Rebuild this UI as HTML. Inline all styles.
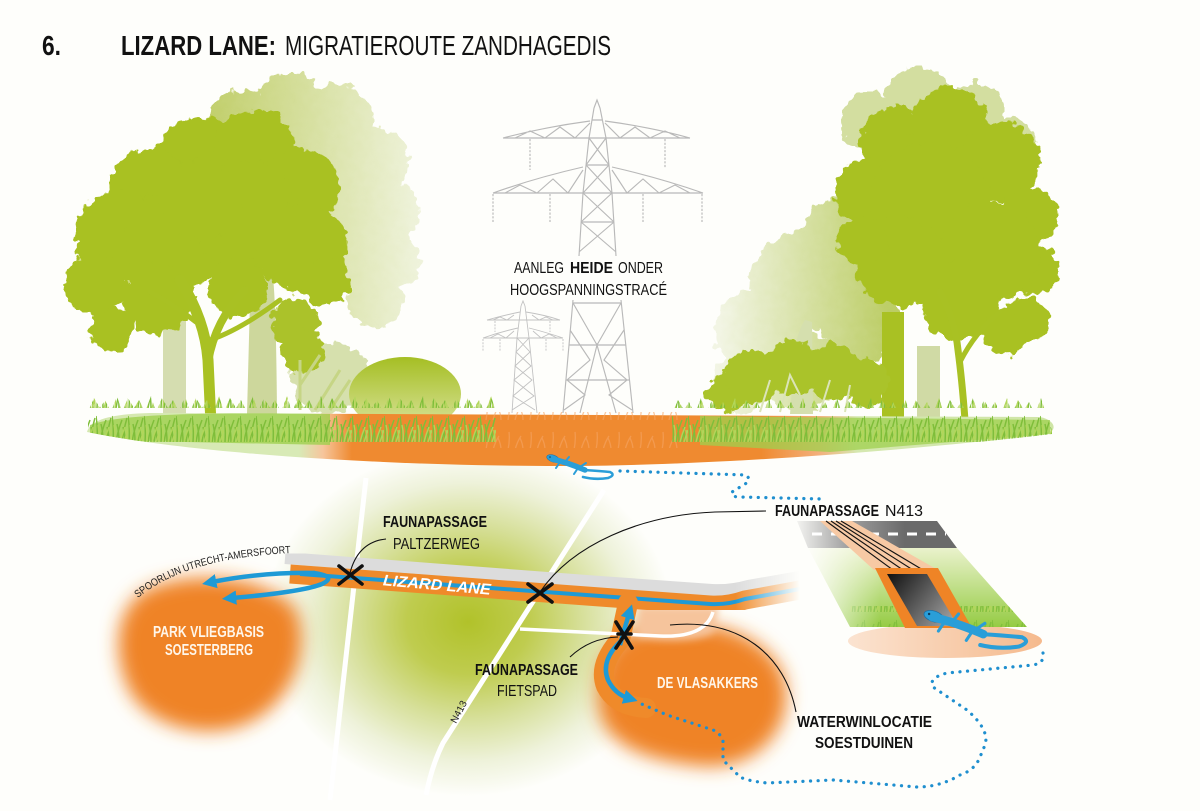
<!DOCTYPE html>
<html><head><meta charset="utf-8"><style>
html,body{margin:0;padding:0;background:#fefefb;}
svg{display:block;}
text{font-family:"Liberation Sans",sans-serif;}
</style></head><body>
<svg width="1200" height="811" viewBox="0 0 1200 811" xmlns="http://www.w3.org/2000/svg">
<defs>
<filter id="leafy" x="-15%" y="-15%" width="130%" height="130%">
<feTurbulence type="fractalNoise" baseFrequency="0.11" numOctaves="2" seed="7" result="n"/>
<feDisplacementMap in="SourceGraphic" in2="n" scale="14" xChannelSelector="R" yChannelSelector="G"/>
</filter>
<filter id="soft" x="-40%" y="-40%" width="180%" height="180%"><feGaussianBlur stdDeviation="9"/></filter>
<filter id="soft4" x="-40%" y="-40%" width="180%" height="180%"><feGaussianBlur stdDeviation="4"/></filter>
<radialGradient id="gmap" gradientUnits="userSpaceOnUse" cx="468" cy="622" r="205" gradientTransform="matrix(1 0 0 0.85 0 93.3)">
<stop offset="0" stop-color="#b1c22a"/><stop offset="0.3" stop-color="#bfcc4f"/><stop offset="0.55" stop-color="#d6df98"/><stop offset="0.8" stop-color="#eef2da"/><stop offset="1" stop-color="#fefefb"/>
</radialGradient>
<linearGradient id="fadeL" gradientUnits="userSpaceOnUse" x1="200" y1="0" x2="420" y2="0"><stop offset="0" stop-color="#bfcd66"/><stop offset="1" stop-color="#eff3dc"/></linearGradient>
<linearGradient id="fadeR" gradientUnits="userSpaceOnUse" x1="720" y1="0" x2="890" y2="0"><stop offset="0" stop-color="#f2f5e4"/><stop offset="1" stop-color="#bccd66"/></linearGradient>
<linearGradient id="bushL" gradientUnits="userSpaceOnUse" x1="0" y1="358" x2="0" y2="420"><stop offset="0" stop-color="#a6bf25"/><stop offset="1" stop-color="#d2de8c"/></linearGradient>
<linearGradient id="groundH" gradientUnits="userSpaceOnUse" x1="87" y1="0" x2="1050" y2="0">
<stop offset="0" stop-color="#d5e8b0"/><stop offset="0.22" stop-color="#d8eab6"/><stop offset="0.245" stop-color="#f6c59c"/><stop offset="0.275" stop-color="#ef8a30"/><stop offset="0.70" stop-color="#ef8a30"/><stop offset="0.76" stop-color="#f3b07c"/><stop offset="0.80" stop-color="#d5e8b0"/><stop offset="1" stop-color="#cfe5a6"/>
</linearGradient>
<pattern id="grass" patternUnits="userSpaceOnUse" width="16" height="34">
<path d="M1 34 Q2 20 0 8 M4 34 Q6 22 10 12 M7 34 Q7 24 5 16 M10 34 Q12 20 15 10 M13 34 Q13 26 11 19" stroke="#7fbe3a" stroke-width="1.5" fill="none"/>
<path d="M3 34 Q4 25 2 17 M8 34 Q10 26 13 19 M12 34 Q14 28 16 22 M15 34 Q15 27 14 22" stroke="#b2d65a" stroke-width="1.4" fill="none"/>
</pattern>
<pattern id="ograss" patternUnits="userSpaceOnUse" width="22" height="30">
<path d="M2 30 Q4 20 3 12 M9 30 Q11 22 15 16 M17 30 Q17 24 14 18" stroke="#f6a464" stroke-width="1.3" fill="none"/>
</pattern>
<clipPath id="groundClip"><path d="M87 395 L1052 395 L1052 434 C900 452 700 466 560 466 C400 466 200 455 87 432 Z"/></clipPath>
<clipPath id="grassTopL"><path d="M88 450 L88 412 l6 -14 l6 10 l5 -8 l6 12 l6 -16 l5 16 l6 -14 l6 10 l5 -8 l6 12 l6 -16 l5 16 l6 -14 l6 10 l5 -8 l6 12 l6 -16 l5 16 l6 -14 l6 10 l5 -8 l6 12 l6 -16 l5 16 l6 -14 l6 10 l5 -8 l6 12 l6 -16 l5 16 l6 -14 l6 10 l5 -8 l6 12 l6 -16 l5 16 l6 -14 l6 10 l5 -8 l6 12 l6 -16 l5 16 l6 -14 l6 10 l5 -8 l6 12 l6 -16 l5 16 l6 -14 l6 10 l5 -8 l6 12 l6 -16 l5 16 l6 -14 l6 10 l5 -8 l6 12 l6 -16 l5 16 l6 -14 l6 10 l5 -8 l6 12 l6 -16 l5 16 l6 -14 l6 10 l5 -8 l6 12 l6 -16 l5 16 L496 450 Z"/></clipPath>
<clipPath id="grassTopR"><path d="M672 452 L672 414 l6 -14 l6 10 l5 -8 l6 12 l6 -16 l5 16 l6 -14 l6 10 l5 -8 l6 12 l6 -16 l5 16 l6 -14 l6 10 l5 -8 l6 12 l6 -16 l5 16 l6 -14 l6 10 l5 -8 l6 12 l6 -16 l5 16 l6 -14 l6 10 l5 -8 l6 12 l6 -16 l5 16 l6 -14 l6 10 l5 -8 l6 12 l6 -16 l5 16 l6 -14 l6 10 l5 -8 l6 12 l6 -16 l5 16 l6 -14 l6 10 l5 -8 l6 12 l6 -16 l5 16 l6 -14 l6 10 l5 -8 l6 12 l6 -16 l5 16 l6 -14 l6 10 l5 -8 l6 12 l6 -16 l5 16 l6 -14 l6 10 l5 -8 l6 12 l6 -16 l5 16 L1060 452 Z"/></clipPath>
<clipPath id="slopeClip"><polygon points="808,548 957,548 1027,627 850,627"/></clipPath>
<linearGradient id="road" gradientUnits="userSpaceOnUse" x1="790" y1="0" x2="905" y2="0"><stop offset="0" stop-color="#fefefb"/><stop offset="0.5" stop-color="#a0a0a0"/><stop offset="1" stop-color="#6a6a6a"/></linearGradient>
<linearGradient id="slope" gradientUnits="userSpaceOnUse" x1="0" y1="548" x2="0" y2="628"><stop offset="0" stop-color="#eaf2cc"/><stop offset="1" stop-color="#94cb42"/></linearGradient>
<linearGradient id="slopeFade" gradientUnits="userSpaceOnUse" x1="805" y1="0" x2="880" y2="0"><stop offset="0" stop-color="#fefefb" stop-opacity="1"/><stop offset="1" stop-color="#fefefb" stop-opacity="0"/></linearGradient>
<linearGradient id="hole" gradientUnits="userSpaceOnUse" x1="890" y1="575" x2="955" y2="625"><stop offset="0" stop-color="#151515"/><stop offset="1" stop-color="#a8a8a8"/></linearGradient>
<linearGradient id="peach" gradientUnits="userSpaceOnUse" x1="850" y1="0" x2="1045" y2="0"><stop offset="0" stop-color="#fbe3d0"/><stop offset="1" stop-color="#f5b98c"/></linearGradient>
<linearGradient id="fadeMaskG" gradientUnits="userSpaceOnUse" x1="735" y1="0" x2="800" y2="0"><stop offset="0" stop-color="#fff"/><stop offset="1" stop-color="#000"/></linearGradient>
<mask id="bandMask"><rect x="0" y="0" width="1200" height="811" fill="url(#fadeMaskG)"/></mask>
<marker id="ah" viewBox="0 0 10 10" refX="3" refY="5" markerWidth="3.2" markerHeight="3.2" orient="auto" markerUnits="strokeWidth"><path d="M0 0 L10 5 L0 10 Z" fill="#1e9ad6"/></marker>
<g id="liz">
<ellipse cx="5" cy="1.5" rx="6.5" ry="3.4" transform="rotate(18 5 1.5)" fill="#2a9ed8" stroke="#1a6ea6" stroke-width="0.5"/>
<path d="M4 2 Q18 5 37 13" stroke="#2a9ed8" stroke-width="5.5" stroke-linecap="round" fill="none"/>
<path d="M36 13 Q52 14 62 15 Q68 18 60 21 Q47 23 35 20" stroke="#2a9ed8" stroke-width="2.6" stroke-linecap="round" fill="none"/>
<path d="M12 5 L8 11 M17 5 L21 0 M30 11 L26 17 M32 10 L38 6" stroke="#2a9ed8" stroke-width="2" stroke-linecap="round"/>
<circle cx="2" cy="0" r="0.8" fill="#0d3d5e"/>
</g>
</defs>

<rect width="1200" height="811" fill="#fefefb"/>

<ellipse cx="468" cy="625" rx="215" ry="178" fill="url(#gmap)"/>

<text x="42" y="55" font-size="28" font-weight="bold" fill="#111" textLength="19" lengthAdjust="spacingAndGlyphs">6.</text>
<text x="121" y="55" font-size="28" font-weight="bold" fill="#111" textLength="155" lengthAdjust="spacingAndGlyphs">LIZARD LANE:</text>
<text x="285" y="55" font-size="28" fill="#111" textLength="326" lengthAdjust="spacingAndGlyphs">MIGRATIEROUTE ZANDHAGEDIS</text>

<g stroke="#c2c2c2" stroke-width="0.9" fill="none">
<path d="M487 320 L560 320 M487 320 Q505 315 520 312 M526 312 Q545 315 560 320 M483 338 L563 338 M483 338 Q500 332 518 328 M529 328 Q545 332 563 338 M493 320 L500 317 L507 320 L514 315 M532 315 L539 320 L546 317 L553 320 M490 338 L498 334 L506 338 L514 331 M533 331 L541 338 L549 334 L557 338 M521 306 L523 301 L525 306 M521 306 L517 338 L512 413 M525 306 L529 338 L537 413 M517 338 L530 352 L515 366 L532 380 L513 396 L535 410 M529 338 L516 352 L531 366 L514 380 L534 396 L512 410"/>
<path d="M495 321 L495 332 M550 321 L550 332 M483 339 L483 351 M500 339 L500 351 M546 339 L546 351 M563 339 L563 351" stroke-dasharray="2 1.2"/>
</g>
<g stroke="#b9b9b9" stroke-width="1.15" fill="none">
<path d="M503 138 L690 138 M503 138 Q545 127 590 121 M605 121 Q650 127 690 138 M515 138 L530 131 L545 138 L560 127 L575 138 L590 123 M605 123 L620 138 L635 127 L650 138 L665 131 L680 138"/>
<path d="M493 193 L703 193 M493 193 Q535 178 583 167 M612 167 Q660 178 703 193 M505 193 L520 185 L537 193 L553 179 L568 193 L583 170 M612 170 L627 193 L643 179 L659 193 L675 185 L690 193"/>
<path d="M594 108 L597 100 L600 108 M594 108 L589 138 L583 193 L579 256 M600 108 L606 138 L612 193 L616 256 M589 138 L609 165 M606 138 L586 165 M586 165 L612 193 M609 165 L583 193 M583 193 L614 222 M612 193 L581 222 M581 222 L616 252 M614 222 L579 252 M586 165 L609 165 M581 222 L614 222 M592 120 L602 120"/>
<path d="M573 300 L563 413 M621 300 L633 413 M580 413 L597 345 L616 413 M573 303 L621 303 M569 345 L626 345 M566 380 L629 380 M573 303 L597 345 L621 303 M570 330 L590 360 L567 380 L585 395 L564 410 M624 330 L604 360 L627 380 L609 395 L632 410"/>
<path d="M530 139 L530 170 M665 139 L665 168 M493 194 L493 222 M550 194 L550 222 M643 194 L643 222 M702 194 L702 222" stroke-dasharray="2.2 1.5"/>
</g>
<rect x="505" y="256" width="168" height="44" fill="#fefefb"/>
<text x="514" y="273" font-size="15.5" fill="#111" textLength="50" lengthAdjust="spacingAndGlyphs">AANLEG</text>
<text x="570" y="273" font-size="15.5" font-weight="bold" fill="#111" textLength="43" lengthAdjust="spacingAndGlyphs">HEIDE</text>
<text x="618" y="273" font-size="15.5" fill="#111" textLength="45" lengthAdjust="spacingAndGlyphs">ONDER</text>
<text x="510" y="295" font-size="15.5" fill="#111" textLength="157" lengthAdjust="spacingAndGlyphs">HOOGSPANNINGSTRACÉ</text>

<g fill="url(#fadeL)" filter="url(#leafy)">
<circle cx="245" cy="128" r="38"/><circle cx="290" cy="108" r="35"/><circle cx="335" cy="122" r="38"/><circle cx="372" cy="162" r="36"/><circle cx="385" cy="212" r="34"/><circle cx="390" cy="262" r="30"/><circle cx="375" cy="300" r="28"/><circle cx="300" cy="172" r="70"/><circle cx="340" cy="232" r="55"/><circle cx="262" cy="200" r="50"/>
</g>
<rect x="163" y="318" width="23" height="96" fill="#d5ddb0"/>
<path d="M247 414 L250 300 Q252 275 262 268 L272 270 Q276 290 277 414 Z" fill="#cdd79c"/>
<g fill="#a9c123" filter="url(#leafy)">
<circle cx="200" cy="162" r="45"/><circle cx="255" cy="152" r="42"/><circle cx="300" cy="188" r="40"/><circle cx="150" cy="188" r="40"/><circle cx="120" cy="236" r="45"/><circle cx="95" cy="285" r="31"/><circle cx="112" cy="330" r="22"/><circle cx="175" cy="240" r="50"/><circle cx="245" cy="215" r="55"/><circle cx="302" cy="248" r="45"/><circle cx="326" cy="282" r="24"/><circle cx="158" cy="298" r="36"/><circle cx="238" cy="286" r="30"/><circle cx="200" cy="200" r="40"/>
</g>
<g stroke="#a9c123" fill="none" stroke-linecap="round">
<path d="M211 424 L208 360 Q205 320 180 280" stroke-width="11"/>
<path d="M208 362 Q215 320 245 290" stroke-width="8"/>
<path d="M210 340 Q240 330 280 300" stroke-width="5"/>
<path d="M196 322 Q170 302 150 292" stroke-width="5"/>
</g>
<g fill="#d6e0ad" filter="url(#leafy)"><ellipse cx="330" cy="378" rx="40" ry="36"/></g>
<g fill="#abc22a" filter="url(#leafy)"><circle cx="295" cy="322" r="24"/><circle cx="302" cy="350" r="22"/></g>
<g stroke="#c6d585" stroke-width="3" fill="none"><path d="M300 410 L300 360 M300 385 L320 355 M315 410 L340 370 M330 410 L350 380"/></g>
<ellipse cx="405" cy="394" rx="56" ry="37" fill="url(#bushL)"/>

<g fill="url(#fadeR)" filter="url(#leafy)">
<circle cx="760" cy="332" r="45"/><circle cx="800" cy="282" r="50"/><circle cx="845" cy="242" r="45"/><circle cx="742" cy="382" r="30"/><circle cx="800" cy="372" r="40"/><circle cx="860" cy="322" r="40"/><circle cx="880" cy="202" r="35"/>
</g>
<g fill="#d3dea0" filter="url(#leafy)"><circle cx="870" cy="122" r="30"/><circle cx="920" cy="102" r="35"/><circle cx="975" cy="112" r="30"/><circle cx="1010" cy="142" r="25"/></g>
<path d="M790 414 L795 350 Q798 330 805 320 L812 322 L813 414 Z" fill="#d5dfae"/>
<g fill="#a9c123" filter="url(#leafy)">
<circle cx="895" cy="142" r="35"/><circle cx="950" cy="127" r="40"/><circle cx="1000" cy="162" r="40"/><circle cx="1028" cy="217" r="29"/><circle cx="1036" cy="270" r="24"/><circle cx="870" cy="192" r="35"/><circle cx="930" cy="202" r="60"/><circle cx="990" cy="252" r="50"/><circle cx="900" cy="262" r="45"/><circle cx="960" cy="300" r="40"/><circle cx="1026" cy="320" r="23"/><circle cx="862" cy="242" r="25"/><circle cx="1005" cy="332" r="22"/>
</g>
<rect x="882" y="312" width="22" height="108" fill="#a9c123"/>
<rect x="917" y="346" width="23" height="72" fill="#d0daa5"/>
<g stroke="#a9c123" fill="none" stroke-linecap="round">
<path d="M965 420 Q962 380 958 350 Q955 320 940 292" stroke-width="7"/>
<path d="M960 362 Q975 332 1000 312" stroke-width="5"/>
</g>
<g fill="#aac32a" filter="url(#leafy)"><circle cx="727" cy="392" r="20"/><circle cx="752" cy="377" r="27"/><circle cx="792" cy="368" r="28"/><circle cx="832" cy="372" r="28"/><circle cx="866" cy="382" r="24"/></g>
<g stroke="#dbe4b8" stroke-width="2" fill="none"><path d="M760 412 L770 380 M780 412 L790 375 L800 395 M820 412 L830 380 M845 412 L850 385"/></g>

<path d="M87 432 C90 420 110 414 150 413 L1040 417 C1055 420 1058 430 1047 434 C900 452 700 466 560 466 C400 466 200 455 87 432 Z" fill="url(#groundH)"/>
<g clip-path="url(#groundClip)">
<path d="M90 425 C120 414 200 412 330 414 L330 445 L90 440 Z" fill="#9fd04e" opacity="0.8"/>
<path d="M700 416 L1050 420 L1050 434 L830 452 L700 445 Z" fill="#9fd04e" opacity="0.75"/>
<rect x="480" y="412" width="200" height="36" fill="url(#ograss)" opacity="0.6"/>
</g>
<g clip-path="url(#groundClip)">
<rect x="88" y="396" width="410" height="52" fill="url(#grass)" clip-path="url(#grassTopL)"/>
</g>
<g clip-path="url(#groundClip)">
<rect x="672" y="398" width="384" height="52" fill="url(#grass)" clip-path="url(#grassTopR)"/>
</g>

<path d="M150 588 C200 568 272 578 296 610 C312 650 292 702 250 722 C210 742 150 728 130 692 C110 652 115 604 150 588 Z" fill="#ef8327" filter="url(#soft)"/>
<path d="M640 628 C700 614 762 630 782 672 C800 722 760 772 700 766 C640 760 600 742 598 702 C596 662 610 640 640 628 Z" fill="#ef8327" filter="url(#soft)"/>
<path d="M638 606 L718 606 L714 632 Q700 642 660 640 L636 638 Z" fill="#f6c49c" filter="url(#soft4)"/>

<path d="M366 478 L330 800" stroke="#ffffff" stroke-width="5" fill="none"/>
<path d="M604 490 L443 743 Q432 765 426 795" stroke="#ffffff" stroke-width="5" fill="none"/>
<text x="0" y="0" font-size="10" fill="#222" transform="translate(456 724) rotate(-62)">N413</text>

<g mask="url(#bandMask)">
<path d="M285 558 L600 582 L712 590 Q730 591 748 586 L805 576" stroke="#dcdcdc" stroke-width="12" fill="none"/>
<path d="M290 574 L600 597 L710 605 Q728 606 745 600 L800 590" stroke="#ef8a2a" stroke-width="19" fill="none"/>
<path d="M300 574 L600 596 L710 604 Q728 605 745 599 L800 589" stroke="#1e9ad6" stroke-width="4" fill="none"/>
</g>
<path d="M628 603 L620 640 Q598 665 606 686 Q616 706 646 708" stroke="#ef8a2a" stroke-width="20" fill="none" stroke-linecap="round"/>
<path d="M620 645 Q624 630 629 614" stroke="#1e9ad6" stroke-width="4.5" fill="none" marker-end="url(#ah)"/>
<path d="M622 640 Q600 660 608 680 Q615 694 628 698" stroke="#1e9ad6" stroke-width="4.5" fill="none" marker-end="url(#ah)"/>
<path d="M315 573 Q262 572 212 582" stroke="#1e9ad6" stroke-width="4.5" fill="none" marker-end="url(#ah)"/>
<path d="M313 573 Q338 576 322 584 Q302 592 232 598" stroke="#1e9ad6" stroke-width="4.5" fill="none" marker-end="url(#ah)"/>

<text x="383" y="590" font-size="15.5" font-weight="bold" font-style="italic" fill="#ffffff" textLength="108" lengthAdjust="spacingAndGlyphs" transform="rotate(5 437 584)">LIZARD LANE</text>

<path d="M520 629 L660 636 Q705 638 713 612" stroke="#ffffff" stroke-width="3.5" fill="none"/>

<g stroke="#111" stroke-width="3.6" stroke-linecap="round" fill="none">
<path d="M339 566 L362 584 M362 566 L339 584"/>
<path d="M528 584 L552 602 M552 584 L528 602"/>
<path d="M616 622 L632 648 M633 622 L616 648 M618 634 L631 634"/>
</g>

<path id="railp" d="M138 598 Q185 558 292 553" fill="none"/>
<text font-size="10.5" fill="#222"><textPath href="#railp" textLength="162" lengthAdjust="spacingAndGlyphs">SPOORLIJN UTRECHT-AMERSFOORT</textPath></text>

<text x="153" y="637" font-size="15.5" font-weight="bold" fill="#fff6ea" textLength="111" lengthAdjust="spacingAndGlyphs">PARK VLIEGBASIS</text>
<text x="165" y="655" font-size="15.5" font-weight="bold" fill="#fff6ea" textLength="88" lengthAdjust="spacingAndGlyphs">SOESTERBERG</text>
<text x="657" y="688" font-size="15.5" font-weight="bold" fill="#fff6ea" textLength="101" lengthAdjust="spacingAndGlyphs">DE VLASAKKERS</text>

<g stroke="#111" stroke-width="1.1" fill="none">
<path d="M386 539 Q358 542 350 573"/>
<path d="M766 511 L715 512 C640 515 572 545 540 592"/>
<path d="M570 657 Q590 638 618 637"/>
<path d="M670 625 C740 618 785 655 796 712"/>
</g>

<text x="383" y="527" font-size="16" font-weight="bold" fill="#111" textLength="104" lengthAdjust="spacingAndGlyphs">FAUNAPASSAGE</text>
<text x="393" y="549" font-size="16" fill="#111" textLength="87" lengthAdjust="spacingAndGlyphs">PALTZERWEG</text>
<text x="475" y="675" font-size="16" font-weight="bold" fill="#111" textLength="103" lengthAdjust="spacingAndGlyphs">FAUNAPASSAGE</text>
<text x="497" y="696" font-size="16" fill="#111" textLength="60" lengthAdjust="spacingAndGlyphs">FIETSPAD</text>
<text x="775" y="516" font-size="16" font-weight="bold" fill="#111" textLength="104" lengthAdjust="spacingAndGlyphs">FAUNAPASSAGE</text>
<text x="885" y="516" font-size="16" fill="#111" textLength="38" lengthAdjust="spacingAndGlyphs">N413</text>
<text x="797" y="727" font-size="16" font-weight="bold" fill="#111" textLength="135" lengthAdjust="spacingAndGlyphs">WATERWINLOCATIE</text>
<text x="815" y="748" font-size="16" font-weight="bold" fill="#111" textLength="98" lengthAdjust="spacingAndGlyphs">SOESTDUINEN</text>

<ellipse cx="945" cy="641" rx="97" ry="17" fill="url(#peach)"/>
<polygon points="797,521 937,521 957,548 808,548" fill="url(#road)"/>
<line x1="812" y1="534" x2="946" y2="534" stroke="#ffffff" stroke-width="3" stroke-dasharray="10 9"/>
<polygon points="808,548 957,548 1027,627 850,627" fill="url(#slope)"/>
<rect x="850" y="606" width="180" height="22" fill="url(#grass)" clip-path="url(#slopeClip)" opacity="0.9"/>
<polygon points="806,548 880,548 900,627 848,627" fill="url(#slopeFade)"/>
<polygon points="820,521 852,521 938,570 874,570" fill="#f7c9a4"/>
<g stroke="#111" stroke-width="1.1"><line x1="826" y1="521" x2="893" y2="570"/><line x1="831" y1="521" x2="903" y2="570"/><line x1="836" y1="521" x2="913" y2="570"/><line x1="841" y1="521" x2="923" y2="570"/></g>
<polygon points="875,568 938,568 972,628 905,628" fill="#ef8426"/>
<polygon points="887,574 927,574 958,626 917,626" fill="url(#hole)"/>
<use href="#liz" transform="translate(926 614) scale(1.55)"/>

<use href="#liz" transform="translate(548 457)"/>

<g stroke="#1f8fcf" stroke-width="3.2" stroke-linecap="round" stroke-dasharray="0.1 7.5" fill="none">
<path d="M620 471 L746 475 Q752 480 745 484 L732 492 Q730 497 740 497 L823 499"/>
<path d="M1043 653 Q1045 663 1033 665 L947 673 Q928 678 933 687 L967 710 Q990 730 985 745 L980 757 Q975 770 960 775 Q940 787 917 787 L833 780 L767 783 Q748 781 740 777 L723 760 L723 740 Q719 732 713 730 L667 715 L637 702"/>
</g>
</svg>
</body></html>
